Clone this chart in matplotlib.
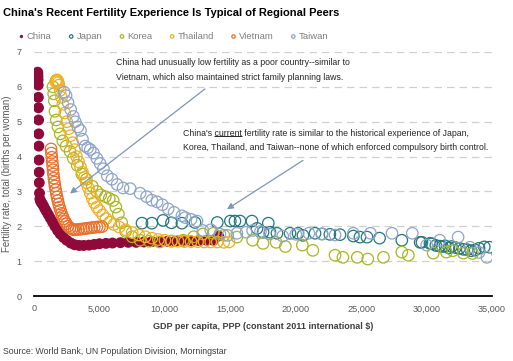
import matplotlib
matplotlib.use("Agg")
import matplotlib.pyplot as plt

plt.rcParams['font.family'] = ['Liberation Sans', 'DejaVu Sans']

# GDP per capita (PPP, constant 2011 $) vs fertility rate
china_gdp = [280, 290, 300, 310, 320, 330, 340, 350, 360, 370, 380, 390, 400, 420, 450,
             500, 560, 640, 730, 840, 960, 1100, 1250, 1420, 1600, 1800, 2000, 2250, 2500,
             2800, 3100, 3450, 3800, 4200, 4600, 5000, 5500, 6000, 6600, 7200, 7800, 8400,
             9000, 9600, 10200, 10800, 11400, 12000, 12600, 13200, 13700, 14100]
china_fert = [6.42, 6.38, 6.3, 6.2, 6.05, 5.7, 5.4, 5.05, 4.65, 4.3, 3.9, 3.55, 3.25, 2.95, 2.78,
              2.72, 2.68, 2.64, 2.58, 2.5, 2.42, 2.33, 2.23, 2.12, 2.0, 1.88, 1.78, 1.68, 1.6,
              1.52, 1.47, 1.45, 1.45, 1.46, 1.48, 1.5, 1.51, 1.52, 1.53, 1.54, 1.54, 1.55,
              1.56, 1.56, 1.57, 1.57, 1.58, 1.58, 1.59, 1.6, 1.6, 1.72]

japan_gdp = [8250, 9000, 9860, 10500, 11300, 12300, 14000, 15000, 15350, 15740, 16650, 17040,
             17900, 17500, 18030, 18560, 19560, 20170, 20550, 21470, 22000, 22600, 23380, 24400,
             24900, 25440, 26400, 28100, 29500, 29640, 30250, 30400, 30700, 31000, 31200, 31400,
             31700, 31900, 32200, 32500, 32800, 33100, 33400, 33700, 34000, 34400, 34800]
japan_fert = [2.09, 2.09, 2.17, 2.1, 2.09, 2.11, 2.11, 2.15, 2.15, 2.15, 2.15, 1.94,
              2.09, 1.83, 1.83, 1.8, 1.8, 1.8, 1.74, 1.8, 1.78, 1.77, 1.76, 1.72,
              1.69, 1.69, 1.66, 1.6, 1.54, 1.54, 1.51, 1.5, 1.45, 1.43, 1.42, 1.44,
              1.38, 1.42, 1.39, 1.37, 1.34, 1.33, 1.3, 1.32, 1.37, 1.41, 1.4]

korea_gdp = [1450, 1500, 1550, 1600, 1700, 1830, 2000, 2200, 2450, 2750, 3000, 3300, 3650,
             4000, 4450, 4800, 5100, 5450, 5750, 6050, 6250, 6450, 6700, 7000, 7500, 8100,
             8800, 9600, 10500, 11400, 12200, 12900, 13700, 14500, 15500, 16700, 17500, 18500,
             19200, 20500, 21300, 23000, 23600, 24700, 25500, 26700, 28100, 28600, 30500,
             31500, 32000, 32800, 33500]
korea_fert = [6.0, 5.8, 5.6, 5.3, 5.05, 4.85, 4.65, 4.45, 4.3, 4.15, 3.95, 3.75, 3.5,
              3.35, 3.15, 3.0, 2.9, 2.85, 2.8, 2.74, 2.55, 2.35, 2.1, 1.85, 1.7, 1.6,
              1.57, 1.55, 1.57, 1.6, 1.7, 1.78, 1.8, 1.74, 1.69, 1.6, 1.51, 1.54,
              1.42, 1.46, 1.31, 1.17, 1.11, 1.11, 1.06, 1.11, 1.26, 1.17, 1.23,
              1.26, 1.3, 1.23, 1.22]

thailand_gdp = [1650, 1700, 1750, 1800, 1850, 1900, 2000, 2100, 2200, 2350, 2500, 2650, 2800,
                2950, 3100, 3250, 3400, 3550, 3700, 3850, 4000, 4150, 4300, 4450, 4600, 4800,
                5000, 5250, 5500, 5800, 6100, 6500, 7000, 7500, 8000, 8500, 9000, 9500, 10000,
                10500, 11000, 11500, 12000, 12500, 13000, 13500, 14000, 14500, 14900]
thailand_fert = [6.15, 6.18, 6.2, 6.17, 6.12, 6.05, 5.9, 5.7, 5.5, 5.25, 5.0, 4.8, 4.6,
                 4.4, 4.2, 4.0, 3.85, 3.7, 3.55, 3.4, 3.25, 3.1, 2.95, 2.8, 2.68, 2.55,
                 2.45, 2.33, 2.22, 2.12, 2.05, 1.98, 1.9, 1.82, 1.75, 1.7, 1.66, 1.62, 1.6,
                 1.58, 1.57, 1.56, 1.56, 1.56, 1.55, 1.55, 1.55, 1.54, 1.55]

vietnam_gdp = [1300, 1330, 1360, 1390, 1420, 1450, 1480, 1520, 1560, 1600, 1650, 1700, 1760,
               1820, 1880, 1950, 2020, 2100, 2180, 2270, 2370, 2480, 2600, 2750, 2900, 3050,
               3200, 3400, 3600, 3800, 4000, 4200, 4400, 4600, 4800, 5000, 5200]
vietnam_fert = [4.22, 4.1, 3.98, 3.86, 3.74, 3.62, 3.5, 3.38, 3.27, 3.16, 3.05, 2.95, 2.84,
                2.74, 2.64, 2.55, 2.46, 2.37, 2.29, 2.21, 2.14, 2.07, 2.0, 1.95, 1.92, 1.9,
                1.9, 1.91, 1.92, 1.93, 1.94, 1.95, 1.96, 1.97, 1.98, 1.98, 1.99]

taiwan_gdp = [2300, 2450, 2600, 2800, 3000, 3150, 3350, 3550, 3700, 3900, 4100, 4300, 4550,
              4800, 5050, 5300, 5600, 5950, 6350, 6800, 7350, 8100, 8600, 9000, 9400, 9800,
              10250, 10700, 11300, 11550, 12000, 12450, 12900, 13500, 14200, 14800, 15500,
              16200, 16700, 17300, 18000, 19000, 20000, 21000, 22000, 23000, 24400, 25700,
              27350, 28900, 30000, 31000, 32400, 33300, 34000, 34600]
taiwan_fert = [5.85, 5.75, 5.55, 5.35, 5.15, 5.0, 4.85, 4.75, 4.5, 4.3, 4.25, 4.2, 4.1,
               3.95, 3.8, 3.65, 3.45, 3.35, 3.2, 3.1, 3.08, 2.95, 2.85, 2.75, 2.7, 2.62,
               2.5, 2.4, 2.3, 2.25, 2.2, 2.15, 1.88, 1.9, 1.78, 1.74, 1.8,
               1.83, 1.88, 1.85, 1.78, 1.72, 1.77, 1.8, 1.78, 1.75, 1.8, 1.8,
               1.8, 1.8, 1.46, 1.6, 1.69, 1.4, 1.25, 1.11]

x_ticks = [0, 5000, 10000, 15000, 20000, 25000, 30000, 35000]
y_ticks = [0, 1, 2, 3, 4, 5, 6, 7]

GRAY = '#595959'
FS_NOTE = 6.3

fig = plt.figure(figsize=(5.13, 3.61), dpi=100)
ax = fig.add_axes([0.0663, 0.180, 0.893, 0.676])

series = [
    ('Japan', japan_gdp, japan_fert, '#23787f'),
    ('Korea', korea_gdp, korea_fert, '#a9b521'),
    ('Thailand', thailand_gdp, thailand_fert, '#efb021'),
    ('Vietnam', vietnam_gdp, vietnam_fert, '#e8702a'),
    ('Taiwan', taiwan_gdp, taiwan_fert, '#8ea5c8'),
]

handles = []
h = ax.scatter(china_gdp, china_fert, s=62, color='#8f0a38', edgecolors='none',
               label='China', zorder=3)
handles.append(h)
for name, gx, fy, col in series:
    h = ax.scatter(gx, fy, s=68, facecolors='none', edgecolors=col, linewidths=0.9,
                   label=name, zorder=3)
    handles.append(h)

ax.set_xlim(0, 35000)
ax.set_ylim(0, 7)
ax.set_xticks(x_ticks)
ax.set_xticklabels([f'{v:,}' for v in x_ticks])
ax.set_yticks(y_ticks)
ax.tick_params(length=0, labelsize=6.6, colors=GRAY, pad=6)
ax.tick_params(axis='y', pad=9)
for sp in ['top', 'right', 'left']:
    ax.spines[sp].set_visible(False)
ax.spines['bottom'].set_linewidth(1.3)
ax.spines['bottom'].set_color('black')
for yv in y_ticks[1:]:
    ax.axhline(yv, color='#d0d0d0', linestyle=(0, (6, 4)), linewidth=0.9, zorder=0)

ax.set_xlabel('GDP per capita, PPP (constant 2011 international $)', fontsize=6.5,
              color='#404040', fontweight='bold', labelpad=6)
ax.set_ylabel('Fertility rate, total (births per woman)', fontsize=6.9, color=GRAY)
ax.yaxis.set_label_coords(-0.047, 0.5)

# annotations
ax.annotate('', xy=(2750, 2.94), xytext=(13060, 5.94),
            arrowprops=dict(arrowstyle='-|>', color='#7f96b8', lw=0.9,
                            mutation_scale=9, shrinkA=0, shrinkB=0))
ax.annotate('', xy=(14740, 2.49), xytext=(20550, 3.89),
            arrowprops=dict(arrowstyle='-|>', color='#7f96b8', lw=0.9,
                            mutation_scale=9, shrinkA=0, shrinkB=0))
ax.text(6250, 6.82, 'China had unusually low fertility as a poor country--similar to\n'
        'Vietnam, which also maintained strict family planning laws.',
        fontsize=FS_NOTE, color='#262626', va='top', ha='left', linespacing=1.75)

tx, ty = 11380, 4.8
ax.text(tx, ty, "China's current fertility rate is similar to the historical experience of Japan,\n"
        'Korea, Thailand, and Taiwan--none of which enforced compulsory birth control.',
        fontsize=FS_NOTE, color='#262626', va='top', ha='left', linespacing=1.75)

# underline the word "current"
renderer = fig.canvas.get_renderer()
m1 = ax.text(tx, ty, "China's ", fontsize=FS_NOTE, va='top', ha='left')
m2 = ax.text(tx, ty, "China's current", fontsize=FS_NOTE, va='top', ha='left')
b1 = m1.get_window_extent(renderer)
b2 = m2.get_window_extent(renderer)
m1.remove()
m2.remove()
inv = ax.transData.inverted()
x0, yline = inv.transform((b1.x1, b2.y0 + 1.2))
x1, _ = inv.transform((b2.x1, b2.y0 + 1.2))
ax.plot([x0, x1], [yline, yline], color='#262626', lw=0.7, solid_capstyle='butt')

leg = fig.legend(handles=handles, loc='upper left', bbox_to_anchor=(0.016, 0.935),
                 ncol=6, frameon=False, fontsize=6.8, markerscale=0.3,
                 handletextpad=0.05, columnspacing=1.6, handlelength=1.0)
for t in leg.get_texts():
    t.set_color('#7f7f7f')

fig.text(0.006, 0.965, "China's Recent Fertility Experience Is Typical of Regional Peers",
         fontsize=8, fontweight='bold', color='black', va='center', ha='left')
fig.text(0.006, 0.025, 'Source: World Bank, UN Population Division, Morningstar',
         fontsize=6.3, color='#404040', va='center', ha='left')

fig.savefig('out.png', dpi=100)
